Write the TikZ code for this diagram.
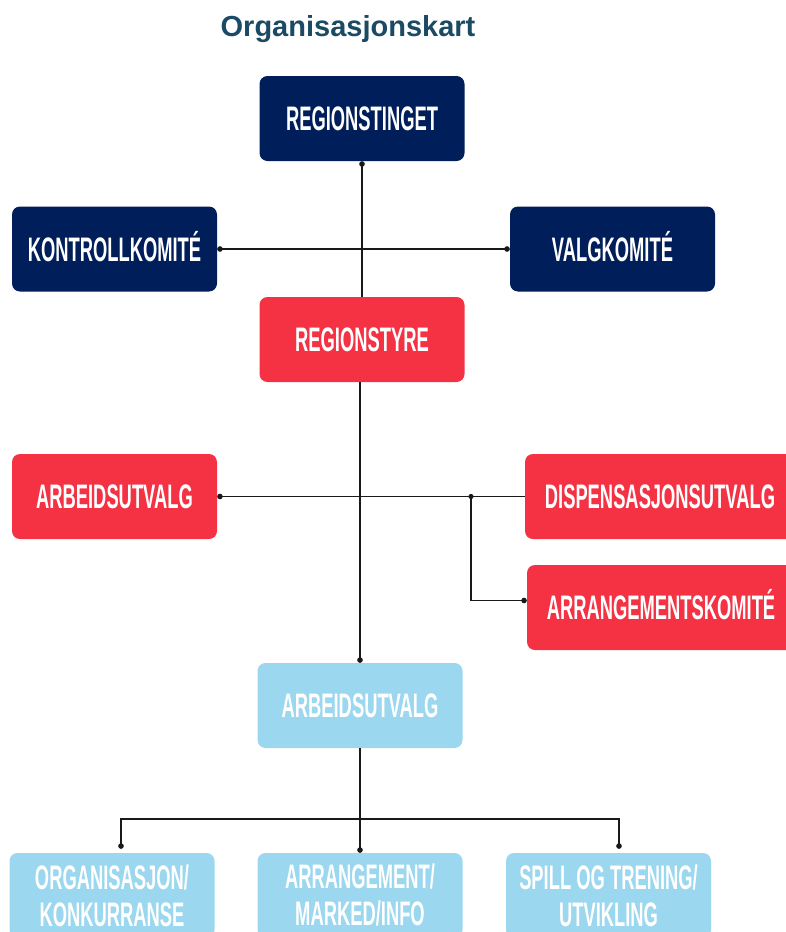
\documentclass[tikz,border=0pt]{standalone}
\usepackage{fontspec}
\setmainfont{Liberation Sans}
\newfontfamily\boxfont{Liberation Sans}[FakeStretch=0.54]
\usetikzlibrary{arrows.meta}
\definecolor{navy}{RGB}{0,30,90}
\definecolor{redb}{RGB}{245,50,68}
\definecolor{lblue}{RGB}{155,215,238}
\definecolor{titlec}{RGB}{27,74,100}
\definecolor{linec}{RGB}{25,25,25}
\begin{document}
\begin{tikzpicture}[x=1pt,y=-1pt,
  basebox/.style={rounded corners=8pt, minimum width=205pt, minimum height=85pt,
    inner sep=0pt, text=white, font=\boxfont\bfseries\fontsize{34}{37}\selectfont},
  box/.style={basebox, text height=24pt, text depth=0pt},
  twobox/.style={basebox, align=center},
  conn/.style={draw=linec, line width=1.2pt},
  dot/.tip={Circle[length=5.5pt]}]
\useasboundingbox (0,0) rectangle (785,932);
\node[font=\bfseries\fontsize{29}{33}\selectfont, text=titlec, anchor=base] (title) at (348,36) {Organisasjonskart};
\node[box,fill=navy] (rt) at (362,118.5) {REGIONSTINGET};
\node[box,fill=navy] (kk) at (114.5,249) {KONTROLLKOMITÉ};
\node[box,fill=navy] (vk) at (612.5,249) {VALGKOMITÉ};
\node[box,fill=redb] (rs) at (362,339.5) {REGIONSTYRE};
\node[box,fill=redb] (au) at (114.5,496.5) {ARBEIDSUTVALG};
\node[box,fill=redb,minimum width=270pt] (du) at (660,496.5) {DISPENSASJONSUTVALG};
\node[box,fill=redb,minimum width=268pt] (ak) at (661,607.5) {ARRANGEMENTSKOMITÉ};
\node[box,fill=lblue] (au2) at (360,705.5) {ARBEIDSUTVALG};
\node[twobox,fill=lblue] (b1) at (112,895.5) {ORGANISASJON/\\KONKURRANSE};
\node[twobox,fill=lblue] (b2) at (360,895.5) {ARRANGEMENT/\\MARKED/INFO};
\node[twobox,fill=lblue] (b3) at (608.5,895.5) {SPILL OG TRENING/\\UTVIKLING};
% connectors
\draw[conn,-dot] (rs.north) -- (rt.south);
\draw[conn,dot-dot] (kk.east) -- (vk.west);
\draw[conn,-dot] (rs.south -| au2.north) -- (au2.north);
\draw[conn,dot-] (au.east) -- (du.west);
\coordinate (j) at (471,496.5);
\fill[linec] (j) circle (2.6pt);
\draw[conn,-dot] (j) |- ([yshift=7pt]ak.west);
\draw[conn,-dot] (au2.south) -- (b2.north);
\coordinate (bus) at (360,819);
\draw[conn,dot-dot] ([xshift=9pt,yshift=4pt]b1.north) |- (bus) -| ([xshift=10.5pt,yshift=4pt]b3.north);
\end{tikzpicture}
\end{document}
